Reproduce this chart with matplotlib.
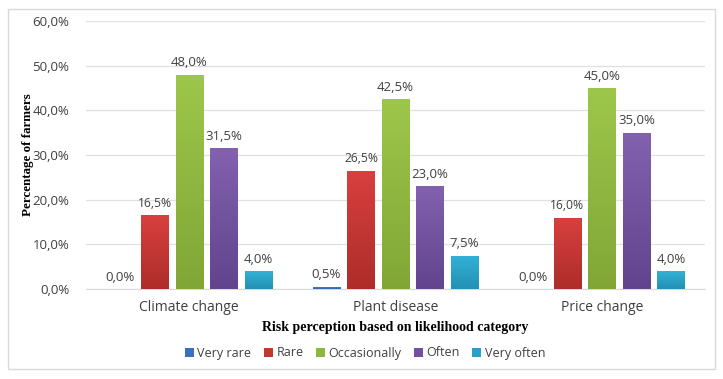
import numpy as np
import matplotlib
matplotlib.use("Agg")
import matplotlib.pyplot as plt
from matplotlib.patches import Rectangle
from matplotlib.colors import LinearSegmentedColormap

categories = ["Climate change", "Plant disease", "Price change"]
series = ["Very rare", "Rare", "Occasionally", "Often", "Very often"]
very_rare = [0.0, 0.5, 0.0]
rare = [16.5, 26.5, 16.0]
occasionally = [48.0, 42.5, 45.0]
often = [31.5, 23.0, 35.0]
very_often = [4.0, 7.5, 4.0]
values = [very_rare, rare, occasionally, often, very_often]
yticks = [0, 10, 20, 30, 40, 50, 60]

top_colors = ["#4a7fd0", "#d8403e", "#9dc74a", "#8262ae", "#33b2d6"]
bot_colors = ["#3264ae", "#ad2d2a", "#81a636", "#62438e", "#2290b4"]
legend_colors = ["#3c6fc0", "#c0392f", "#8db83e", "#7450a0", "#2aa0c8"]
label_sizes = [9.5, 8.7, 9.5, 9.5, 9.5]

fig = plt.figure(figsize=(7.23, 3.79), dpi=100)
fig.patches.append(Rectangle((8/723, 10/379), 707/723, 360/379, transform=fig.transFigure,
                             fill=False, edgecolor="#d9d9d9", linewidth=1.0))
ax = fig.add_axes([86/723, 1 - 289/379, 619/723, 268/379])

font = "Open Sans"
x = np.arange(len(categories))
w = 0.132
step = 0.1675
for i, (name, vals) in enumerate(zip(series, values)):
    xs = x + (i - 2) * step
    bars = ax.bar(xs, vals, width=w, color=legend_colors[i], label=name, zorder=2, linewidth=0)
    cmap = LinearSegmentedColormap.from_list("g%d" % i, [bot_colors[i], top_colors[i]])
    grad = np.linspace(0, 1, 256).reshape(-1, 1)
    for b, v in zip(bars, vals):
        if v <= 0:
            continue
        bx, by = b.get_x(), b.get_y()
        bw, bh = b.get_width(), b.get_height()
        im = ax.imshow(grad, extent=[bx, bx + bw, by, by + bh], origin="lower",
                       cmap=cmap, aspect="auto", zorder=3)
        im.set_clip_path(b)
    for xi, v in zip(xs, vals):
        ax.text(xi, v + 1.2, ("%.1f%%" % v).replace(".", ","), ha="center", va="bottom",
                fontsize=label_sizes[i], family=font, color="#404040", zorder=4)

ax.set_xlim(-0.5, 2.5)
ax.set_ylim(0, 60)
ax.set_yticks(yticks)
ax.set_yticklabels([("%.1f%%" % t).replace(".", ",") for t in yticks], family=font,
                   fontsize=9.5, color="#404040")
ax.set_xticks(x)
ax.set_xticklabels(categories, family=font, fontsize=10, color="#404040")
ax.tick_params(axis="both", length=0, pad=8)
ax.tick_params(axis="y", pad=12)
ax.grid(axis="y", color="#e0e0e0", linewidth=0.9, zorder=0)
ax.set_axisbelow(True)
for s in ["top", "right", "left"]:
    ax.spines[s].set_visible(False)
ax.spines["bottom"].set_color("#d9d9d9")

ax.set_ylabel("Percentage of farmers", family="Liberation Serif", fontweight="bold",
              fontsize=9.4, color="#000000")
ax.yaxis.set_label_coords(-0.084, 0.5)
ax.set_xlabel("Risk perception based on likelihood category", family="Liberation Serif",
              fontweight="bold", fontsize=10, color="#000000", labelpad=4)

leg = fig.legend(loc="center", bbox_to_anchor=(365/723, 1 - 353/379), ncol=5, frameon=False,
                 prop={"family": font, "size": 9}, handlelength=0.7, handleheight=0.7,
                 handletextpad=0.3, columnspacing=1.0)
for t in leg.get_texts():
    t.set_color("#404040")

fig.savefig("out.png", dpi=100)
